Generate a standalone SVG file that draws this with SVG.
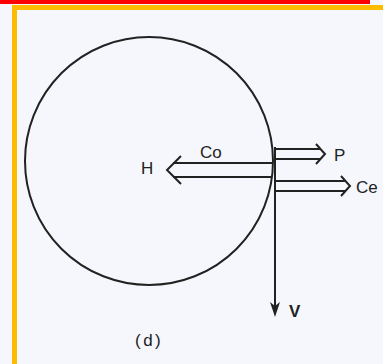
<svg xmlns="http://www.w3.org/2000/svg" width="383" height="364" viewBox="0 0 383 364">
<style>
.ln{fill:none;stroke:#222;stroke-width:2;stroke-linejoin:miter}
.t{font-family:"Liberation Sans",Arial,sans-serif;fill:#222;font-size:17px}
</style>
<rect x="0" y="0" width="383" height="364" fill="#f5f7fc"/>
<rect x="0" y="0" width="370" height="4" fill="#ff0000"/>
<path d="M14.5,364 V7.5 H383" fill="none" stroke="#ffbb00" stroke-width="5"/>
<g id="cell">
<circle cx="149" cy="161" r="124" class="ln"/>
</g>
<g id="connectors">
<path class="ln" d="M272,163 H173 M272,177 H173 M181,156 L167,170 L181,184"/>
<path class="ln" d="M274,149 H320 M274,159 H320 M316,144 L325,154 L316,164"/>
<path class="ln" d="M274,181 H345 M274,191 H345 M341,176 L350,186 L341,196"/>
<path class="ln" d="M275,147 V306"/>
<path d="M270,302 L275,317 L280,302 L275,306 Z" fill="#222"/>
</g>
<g id="labels">
<text class="t" x="141" y="174">H</text>
<text class="t" x="200" y="158">Co</text>
<text class="t" x="334" y="161">P</text>
<text class="t" x="356" y="193">Ce</text>
<text class="t" x="289" y="317" font-weight="bold" font-size="18">V</text>
<text class="t" x="135" y="346" font-size="15" letter-spacing="2.5">(d)</text>
</g>
</svg>
